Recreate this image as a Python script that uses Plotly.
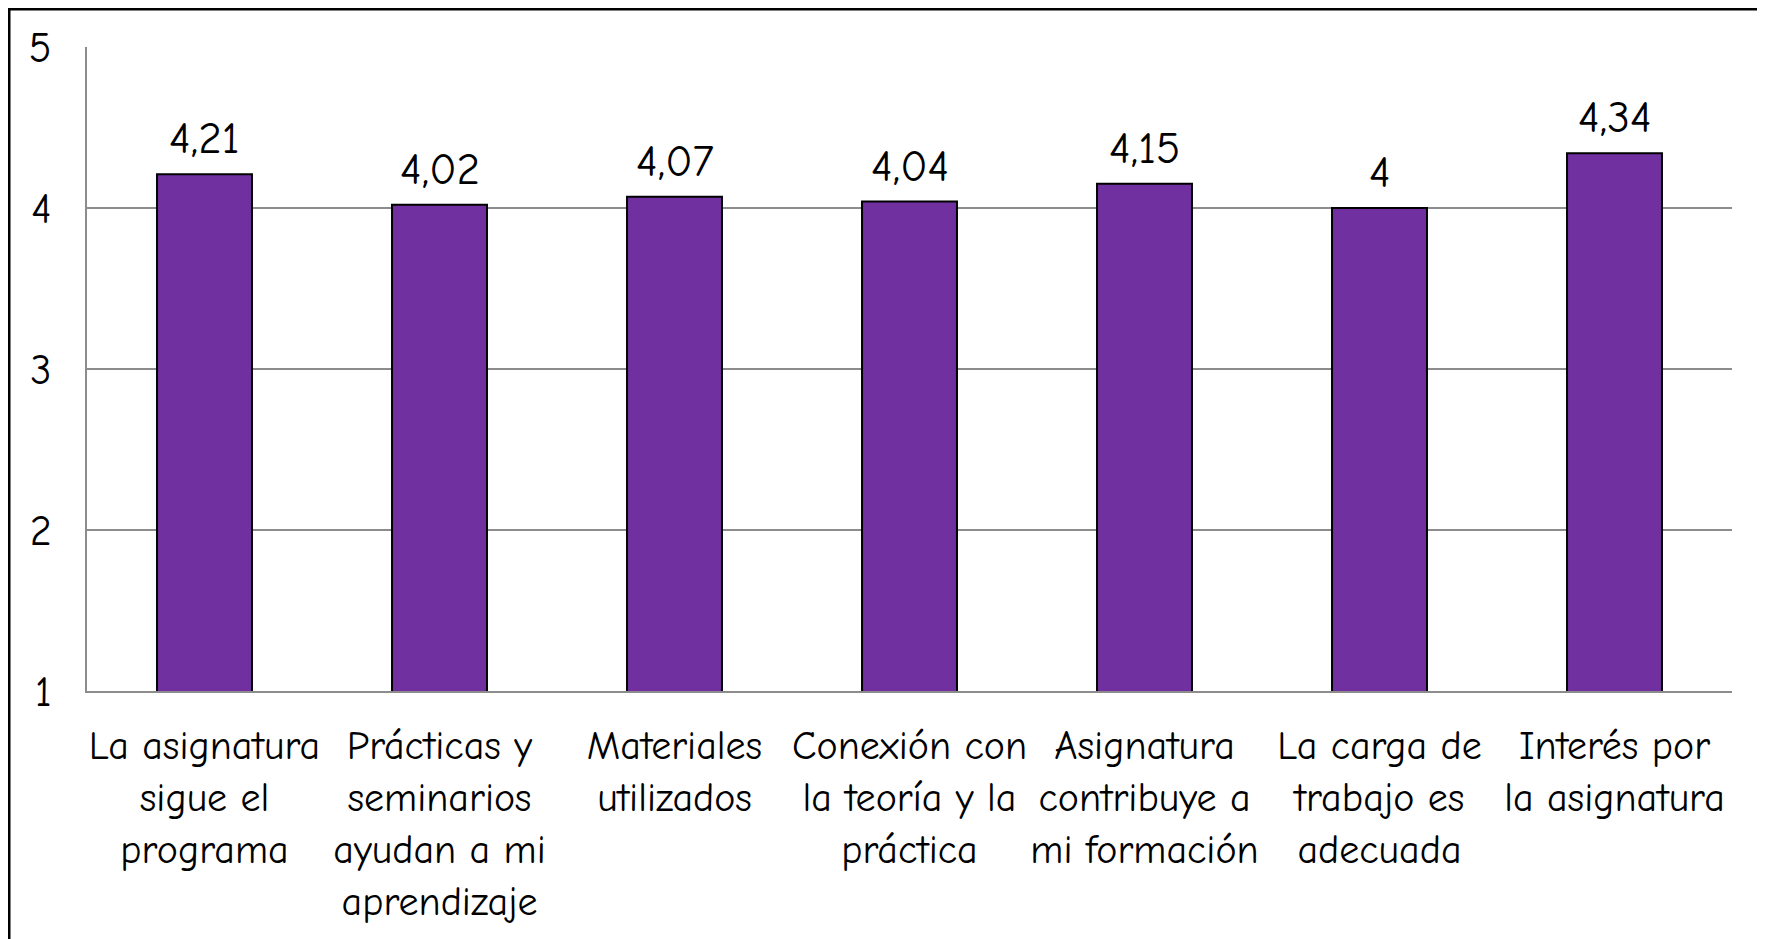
import plotly.graph_objects as go

# Datos del gráfico
categorias = [
    "La asignatura<br>sigue el<br>programa",
    "Prácticas y<br>seminarios<br>ayudan a mi<br>aprendizaje",
    "Materiales<br>utilizados",
    "Conexión con<br>la teoría y la<br>práctica",
    "Asignatura<br>contribuye a<br>mi formación",
    "La carga de<br>trabajo es<br>adecuada",
    "Interés por<br>la asignatura",
]
valores = [4.21, 4.02, 4.07, 4.04, 4.15, 4.00, 4.34]
ticks_y = [1, 2, 3, 4, 5]

W, H = 1765, 939
# la página añade 8px de margen al body
ML, MR, MT, MB = 79, 41, 39, 256
fuente = "Comic Sans MS, Comic Neue, Lato, sans-serif"

fig = go.Figure()

fig.add_trace(go.Bar(
    x=categorias,
    y=valores,
    marker=dict(color="#7030A0", line=dict(color="#000000", width=2)),
    width=0.404,
    hoverinfo="x+y",
))

# Etiquetas de valor sobre cada barra
anotaciones = []
for cat, val in zip(categorias, valores):
    anotaciones.append(dict(
        x=cat, y=val, xref="x", yref="y",
        text=f"{val:g}".replace(".", ","),
        showarrow=False, yanchor="bottom", yshift=8,
        font=dict(size=45, color="#000000", family=fuente),
    ))

# Marco exterior (en coordenadas de papel)
pw = W - ML - MR
ph = H - MT - MB
x0 = (1 - ML) / pw
x1 = (1752 - ML) / pw
y1 = (H - MB - 1) / ph
y0 = (H - MB - 980) / ph

fig.update_layout(
    width=W,
    height=H,
    margin=dict(l=ML, r=MR, t=MT, b=MB),
    paper_bgcolor="white",
    plot_bgcolor="white",
    showlegend=False,
    font=dict(family=fuente, size=40, color="#000000"),
    xaxis=dict(
        showline=True, linecolor="#8c8c8c", linewidth=2,
        showgrid=False, ticks="", ticklabelstandoff=18,
        tickfont=dict(size=40),
    ),
    yaxis=dict(
        range=[1, 5], tickvals=ticks_y,
        showline=True, linecolor="#8c8c8c", linewidth=2,
        showgrid=True, gridcolor="#8c8c8c", gridwidth=1.5,
        ticks="", ticklabelstandoff=25,
        tickfont=dict(size=42),
    ),
    annotations=anotaciones,
    shapes=[dict(
        type="rect", xref="paper", yref="paper",
        x0=x0, x1=x1, y0=y0, y1=y1,
        line=dict(color="#000000", width=3),
        layer="above",
    )],
)

fig.write_html("out.html")
